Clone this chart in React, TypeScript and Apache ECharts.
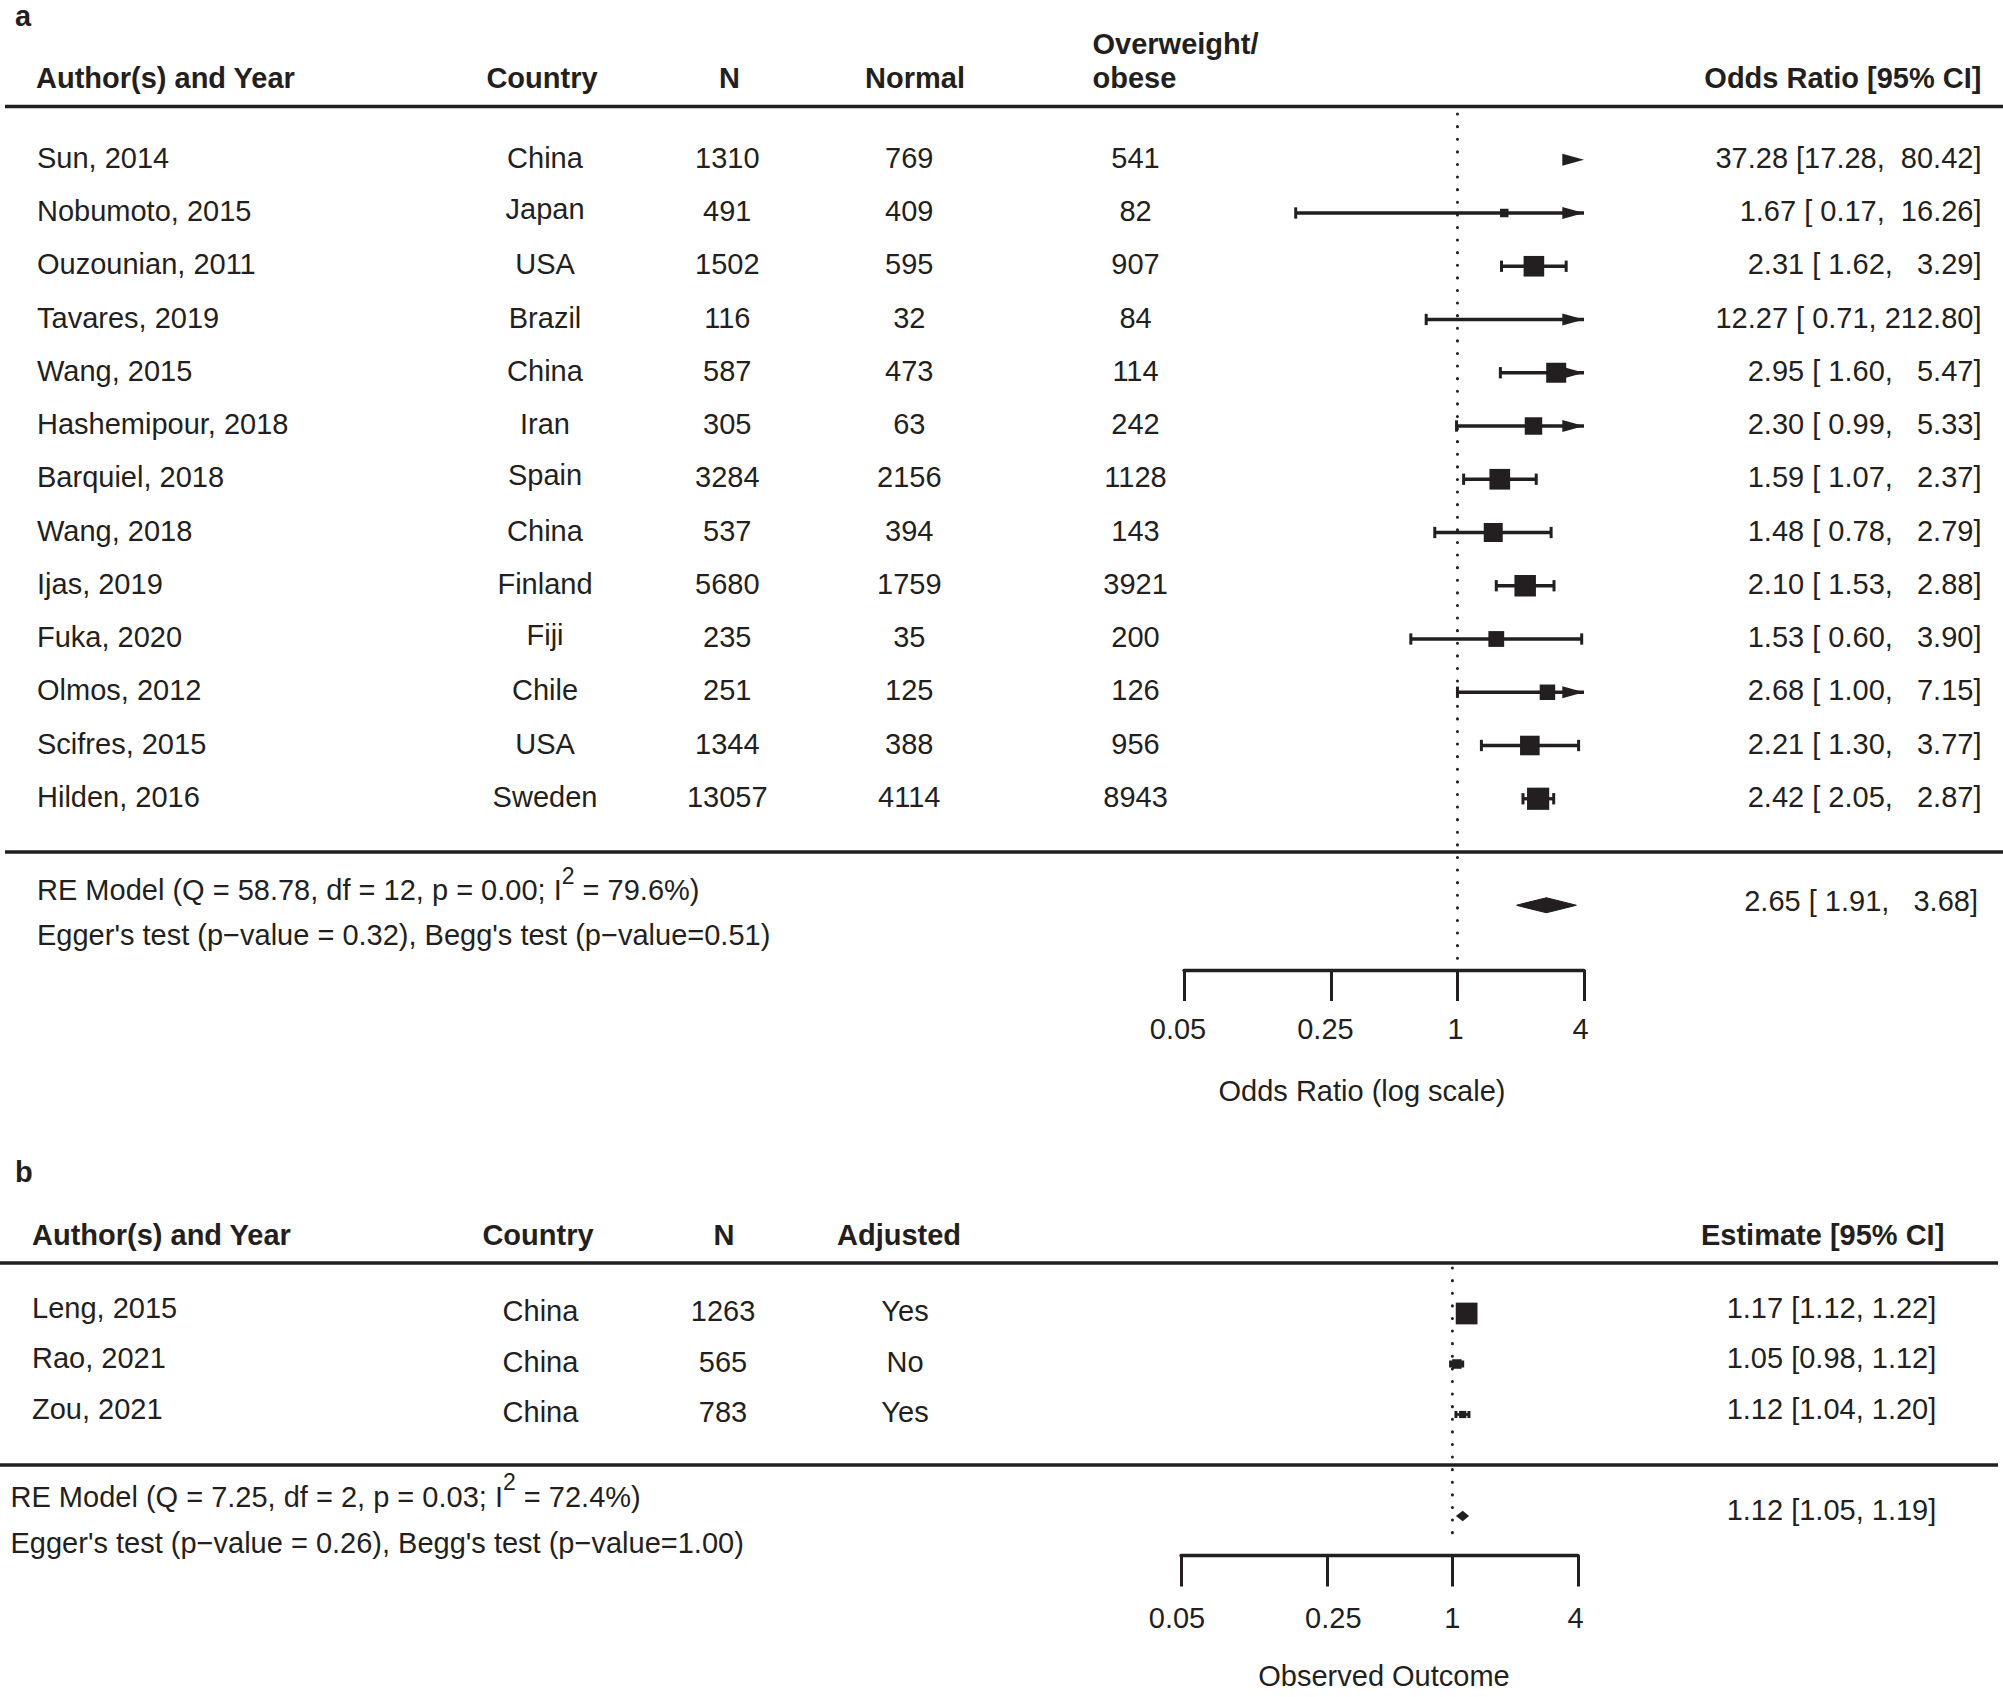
import React, { useEffect, useRef } from "react";
import * as echarts from "echarts";

const FONT = '"Liberation Sans", Arial, Helvetica, sans-serif';
const INK = "#231f20";
const FS = 29;

// ---------------- Panel a data ----------------
const authorsA = ["Sun, 2014", "Nobumoto, 2015", "Ouzounian, 2011", "Tavares, 2019", "Wang, 2015", "Hashemipour, 2018", "Barquiel, 2018", "Wang, 2018", "Ijas, 2019", "Fuka, 2020", "Olmos, 2012", "Scifres, 2015", "Hilden, 2016"];
const countriesA = ["China", "Japan", "USA", "Brazil", "China", "Iran", "Spain", "China", "Finland", "Fiji", "Chile", "USA", "Sweden"];
const totalA = [1310, 491, 1502, 116, 587, 305, 3284, 537, 5680, 235, 251, 1344, 13057];
const normalA = [769, 409, 595, 32, 473, 63, 2156, 394, 1759, 35, 125, 388, 4114];
const overweightA = [541, 82, 907, 84, 114, 242, 1128, 143, 3921, 200, 126, 956, 8943];
const orA = [37.28, 1.67, 2.31, 12.27, 2.95, 2.3, 1.59, 1.48, 2.1, 1.53, 2.68, 2.21, 2.42];
const lowerA = [17.28, 0.17, 1.62, 0.71, 1.6, 0.99, 1.07, 0.78, 1.53, 0.6, 1.0, 1.3, 2.05];
const upperA = [80.42, 16.26, 3.29, 212.8, 5.47, 5.33, 2.37, 2.79, 2.88, 3.9, 7.15, 3.77, 2.87];
const weightA = [7.52, 2.02, 9.79, 1.32, 9.4, 7.79, 9.85, 8.76, 10.37, 6.71, 6.51, 9.14, 10.81];
const pooledA = [2.65, 1.91, 3.68];
const headersA = ["Author(s) and Year", "Country", "N", "Normal", "Overweight/", "obese", "Odds Ratio [95% CI]"];
const modelTextA = ["RE Model (Q = 58.78, df = 12, p = 0.00; I", "2", " = 79.6%)"];
const biasTextA = "Egger's test (p\u2212value = 0.32), Begg's test (p\u2212value=0.51)";
const axisTitleA = "Odds Ratio (log scale)";

// ---------------- Panel b data ----------------
const authorsB = ["Leng, 2015", "Rao, 2021", "Zou, 2021"];
const countriesB = ["China", "China", "China"];
const totalB = [1263, 565, 783];
const adjustedB = ["Yes", "No", "Yes"];
const estB = [1.17, 1.05, 1.12];
const lowerB = [1.12, 0.98, 1.04];
const upperB = [1.22, 1.12, 1.2];
const weightB = [38.8, 31.3, 29.9];
const pooledB = [1.12, 1.05, 1.19];
const headersB = ["Author(s) and Year", "Country", "N", "Adjusted", "Estimate [95% CI]"];
const modelTextB = ["RE Model (Q = 7.25, df = 2, p = 0.03; I", "2", " = 72.4%)"];
const biasTextB = "Egger's test (p\u2212value = 0.26), Begg's test (p\u2212value=1.00)";
const axisTitleB = "Observed Outcome";

const xTicks = [0.05, 0.25, 1, 4];

// ---------------- helpers ----------------
const LN = Math.log;
const lnMin = LN(xTicks[0]);
const lnMax = LN(xTicks[xTicks.length - 1]);
const tickLabel = (v: number) => {
  const t = xTicks.find((k) => Math.abs(LN(k) - v) < 1e-6);
  return t === undefined ? "" : String(t);
};
const f2 = (v: number) => v.toFixed(2);
function ciFormatter(lo: number[], hi: number[]) {
  const wl = Math.max(...lo.map((v) => f2(v).length));
  const wh = Math.max(...hi.map((v) => f2(v).length));
  return (e: number, l: number, h: number) => `${f2(e)} [${f2(l).padStart(wl)}, ${f2(h).padStart(wh)}]`;
}
let measureCtx: CanvasRenderingContext2D | null = null;
function textWidth(t: string, size: number) {
  if (!measureCtx) measureCtx = document.createElement("canvas").getContext("2d");
  measureCtx!.font = `${size}px ${FONT}`;
  return measureCtx!.measureText(t).width;
}

type Cell = { t: string; x: number; r: number; a: "left" | "center" | "right"; b?: boolean; s?: number; dy?: number };
type HLine = { x1: number; x2: number; r: number };

// layout (pixels)
const LA = { top: 0, rowH: 53.25, yMin: -3, axisY: 970, tableH: 1140, left: 1184, width: 400, rowDy: -2, labelShift: [-6, -5.5, -2, -3.5] };
const LB = { top: 1162, rowH: 50.5, yMin: -3, axisY: 1555.5, tableH: 535, left: 1181, width: 397, rowDy: -2.5, labelShift: [-4, 6.5, 0, -2.5] };
const rowOf = (L: typeof LA, px: number) => (px - L.top) / L.rowH + L.yMin;

function summaryCells(L: typeof LA, parts: string[], x: number, py: number): Cell[] {
  const r = rowOf(L, py);
  const w1 = textWidth(parts[0], FS);
  const w2 = textWidth(parts[1], 23);
  return [
    { t: parts[0], x, r, a: "left" },
    { t: parts[1], x: x + w1, r, a: "left", s: 23, dy: -14.5 },
    { t: parts[2], x: x + w1 + w2, r, a: "left" },
  ];
}

function buildCellsA(): Cell[] {
  const fmt = ciFormatter(lowerA, upperA);
  const cells: Cell[] = [];
  const d = LA.rowDy;
  cells.push({ t: "a", x: 15, r: rowOf(LA, 16), a: "left", b: true });
  const hr = rowOf(LA, 78.2);
  cells.push({ t: headersA[0], x: 36, r: hr, a: "left", b: true });
  cells.push({ t: headersA[1], x: 542, r: hr, a: "center", b: true });
  cells.push({ t: headersA[2], x: 729.5, r: hr, a: "center", b: true });
  cells.push({ t: headersA[3], x: 915, r: hr, a: "center", b: true });
  cells.push({ t: headersA[4], x: 1092.5, r: rowOf(LA, 43.5), a: "left", b: true });
  cells.push({ t: headersA[5], x: 1092.5, r: hr, a: "left", b: true });
  cells.push({ t: headersA[6], x: 1981.5, r: hr, a: "right", b: true });
  authorsA.forEach((name, i) => {
    cells.push({ t: name, x: 37, r: i, a: "left", dy: d });
    cells.push({ t: countriesA[i], x: 545, r: i, a: "center", dy: d + (/[gjpqy]/.test(countriesA[i]) ? -2.5 : 0) });
    cells.push({ t: String(totalA[i]), x: 727.3, r: i, a: "center", dy: d });
    cells.push({ t: String(normalA[i]), x: 909.3, r: i, a: "center", dy: d });
    cells.push({ t: String(overweightA[i]), x: 1135.5, r: i, a: "center", dy: d });
    cells.push({ t: fmt(orA[i], lowerA[i], upperA[i]), x: 1981.5, r: i, a: "right", dy: d });
  });
  cells.push(...summaryCells(LA, modelTextA, 37, 890));
  cells.push({ t: biasTextA, x: 37, r: rowOf(LA, 935), a: "left" });
  cells.push({ t: fmt(pooledA[0], pooledA[1], pooledA[2]), x: 1978, r: rowOf(LA, 900.5), a: "right" });
  return cells;
}

function buildCellsB(): Cell[] {
  const fmt = ciFormatter(lowerB, upperB);
  const cells: Cell[] = [];
  const d = LB.rowDy;
  cells.push({ t: "b", x: 15, r: rowOf(LB, 1172), a: "left", b: true });
  const hr = rowOf(LB, 1235.2);
  cells.push({ t: headersB[0], x: 32, r: hr, a: "left", b: true });
  cells.push({ t: headersB[1], x: 538, r: hr, a: "center", b: true });
  cells.push({ t: headersB[2], x: 724, r: hr, a: "center", b: true });
  cells.push({ t: headersB[3], x: 899, r: hr, a: "center", b: true });
  cells.push({ t: headersB[4], x: 1944.3, r: hr, a: "right", b: true });
  authorsB.forEach((name, i) => {
    cells.push({ t: name, x: 32, r: i, a: "left", dy: d - 3.3 });
    cells.push({ t: countriesB[i], x: 540.5, r: i, a: "center", dy: d });
    cells.push({ t: String(totalB[i]), x: 723, r: i, a: "center", dy: d });
    cells.push({ t: adjustedB[i], x: 905, r: i, a: "center", dy: d });
    cells.push({ t: fmt(estB[i], lowerB[i], upperB[i]), x: 1936.3, r: i, a: "right", dy: d - 3.3 });
  });
  cells.push(...summaryCells(LB, modelTextB, 10.5, 1496.5));
  cells.push({ t: biasTextB, x: 10.5, r: rowOf(LB, 1543), a: "left" });
  cells.push({ t: fmt(pooledB[0], pooledB[1], pooledB[2]), x: 1936.3, r: rowOf(LB, 1509.7), a: "right" });
  return cells;
}

const textRender = (cells: Cell[]) => (params: any, api: any) => {
  const c = cells[params.dataIndex];
  const p = api.coord([api.value(0), api.value(1)]);
  return {
    type: "text",
    x: p[0],
    y: p[1] + (c.dy || 0),
    silent: true,
    style: {
      text: c.t,
      fill: INK,
      fontSize: c.s || FS,
      fontFamily: FONT,
      fontWeight: c.b ? "bold" : "normal",
      align: c.a,
      textAlign: c.a,
      verticalAlign: "middle",
      textVerticalAlign: "middle",
    },
  };
};

const hlineRender = (lines: HLine[]) => (params: any, api: any) => {
  const l = lines[params.dataIndex];
  const p1 = api.coord([l.x1, l.r]);
  const p2 = api.coord([l.x2, l.r]);
  return { type: "line", silent: true, shape: { x1: p1[0], y1: p1[1], x2: p2[0], y2: p2[1] }, style: { stroke: INK, lineWidth: 3.3 } };
};

type ForestCfg = { lw: number; capH: number; s0: number; arrowLen: number; arrowH: number; wMin: number; wMax: number };
const forestRender = (cfg: ForestCfg) => (params: any, api: any) => {
  const le = api.value(0);
  const row = api.value(1);
  const ll = api.value(2);
  const lh = api.value(3);
  const w = api.value(4);
  const X = (v: number) => api.coord([v, row])[0];
  const y = api.coord([0, row])[1];
  const ch: any[] = [];
  const st = { stroke: INK, lineWidth: cfg.lw };
  const leftArrow = ll < lnMin;
  const rightArrow = lh > lnMax;
  if (ll < lnMax && lh > lnMin) {
    ch.push({ type: "line", shape: { x1: X(Math.max(ll, lnMin)), y1: y, x2: X(Math.min(lh, lnMax)), y2: y }, style: st });
  }
  if (!leftArrow && ll <= lnMax) {
    const x = X(ll);
    ch.push({ type: "line", shape: { x1: x, y1: y - cfg.capH / 2, x2: x, y2: y + cfg.capH / 2 }, style: { stroke: INK, lineWidth: 3 } });
  }
  if (!rightArrow && lh >= lnMin) {
    const x = X(lh);
    ch.push({ type: "line", shape: { x1: x, y1: y - cfg.capH / 2, x2: x, y2: y + cfg.capH / 2 }, style: { stroke: INK, lineWidth: 3 } });
  }
  if (rightArrow) {
    const xr = X(lnMax);
    ch.push({ type: "polygon", shape: { points: [[xr - cfg.arrowLen, y - cfg.arrowH / 2], [xr, y], [xr - cfg.arrowLen, y + cfg.arrowH / 2]] }, style: { fill: INK } });
  }
  if (leftArrow) {
    const xl = X(lnMin);
    ch.push({ type: "polygon", shape: { points: [[xl + cfg.arrowLen, y - cfg.arrowH / 2], [xl, y], [xl + cfg.arrowLen, y + cfg.arrowH / 2]] }, style: { fill: INK } });
  }
  if (le >= lnMin && le <= lnMax) {
    const s = cfg.s0 * (0.5 + (w - cfg.wMin) / (cfg.wMax - cfg.wMin));
    const x = X(le);
    ch.push({ type: "rect", shape: { x: x - s / 2, y: y - s / 2, width: s, height: s }, style: { fill: INK } });
  }
  return { type: "group", silent: true, children: ch };
};

const diamondRender = (h: number) => (params: any, api: any) => {
  const le = api.value(0);
  const row = api.value(1);
  const ll = api.value(2);
  const lh = api.value(3);
  const X = (v: number) => api.coord([v, row])[0];
  const y = api.coord([0, row])[1];
  return {
    type: "polygon",
    silent: true,
    shape: { points: [[X(ll), y], [X(le), y - h / 2], [X(lh), y], [X(le), y + h / 2]] },
    style: { fill: INK, stroke: INK, lineWidth: 1.2 },
  };
};

function forestXAxis(gridIndex: number, name: string, margin: number, nameGap: number, namePad: number[], shifts: number[]) {
  const rich: Record<string, any> = {};
  shifts.forEach((s, i) => {
    rich["t" + i] = { color: INK, fontSize: FS, fontFamily: FONT, padding: [0, s < 0 ? -2 * s : 0, 0, s > 0 ? 2 * s : 0] };
  });
  return {
    gridIndex,
    type: "value",
    min: lnMin,
    max: lnMax,
    position: "bottom",
    axisLine: { show: true, onZero: false, lineStyle: { color: INK, width: 3.3 } },
    axisTick: { show: true, inside: false, length: 31, lineStyle: { color: INK, width: 3 }, customValues: xTicks.map(LN) },
    axisLabel: {
      show: true,
      customValues: xTicks.map(LN),
      formatter: (v: number) => {
        const idx = xTicks.findIndex((k) => Math.abs(LN(k) - v) < 1e-6);
        return idx < 0 ? "" : `{t${idx}|${tickLabel(v)}}`;
      },
      rich,
      margin,
      color: INK,
      fontSize: FS,
      fontFamily: FONT,
    },
    splitLine: { show: false },
    name,
    nameLocation: "middle",
    nameGap,
    nameTextStyle: { color: INK, fontSize: FS, fontFamily: FONT, padding: namePad },
  };
}

function buildOption() {
  const cellsA = buildCellsA();
  const cellsB = buildCellsB();
  const linesA: HLine[] = [{ x1: 5, x2: 2003, r: -1 }, { x1: 5, x2: 2003, r: authorsA.length }];
  const linesB: HLine[] = [{ x1: 0, x2: 1998, r: -1 }, { x1: 0, x2: 1998, r: authorsB.length }];
  const yMaxA = LA.yMin + (LA.axisY - LA.top) / LA.rowH;
  const yMaxB = LB.yMin + (LB.axisY - LB.top) / LB.rowH;
  const tMaxA = LA.yMin + LA.tableH / LA.rowH;
  const tMaxB = LB.yMin + LB.tableH / LB.rowH;
  const gridBase = { containLabel: false, outerBoundsMode: "none", show: false };

  const cfgA: ForestCfg = { lw: 3.3, capH: 11.3, s0: 14.8, arrowLen: 21.7, arrowH: 12, wMin: Math.min(...weightA), wMax: Math.max(...weightA) };
  const cfgB: ForestCfg = { lw: 2.6, capH: 7, s0: 14.5, arrowLen: 21.7, arrowH: 12, wMin: Math.min(...weightB), wMax: Math.max(...weightB) };

  const dataA = orA.map((e, i) => [LN(e), i, LN(lowerA[i]), LN(upperA[i]), weightA[i]]);
  const dataB = estB.map((e, i) => [LN(e), i, LN(lowerB[i]), LN(upperB[i]), weightB[i]]);

  const dotted = { color: INK, width: 3, type: [0.1, 12.5], cap: "round" };

  return {
    animation: false,
    backgroundColor: "#ffffff",
    grid: [
      { ...gridBase, left: 0, top: LA.top, width: 2003, height: LA.tableH },
      { ...gridBase, left: LA.left, top: LA.top, width: LA.width, height: LA.axisY - LA.top },
      { ...gridBase, left: 0, top: LB.top, width: 2003, height: LB.tableH },
      { ...gridBase, left: LB.left, top: LB.top, width: LB.width, height: LB.axisY - LB.top },
    ],
    xAxis: [
      { gridIndex: 0, type: "value", min: 0, max: 2003, show: false },
      forestXAxis(1, axisTitleA, 44, 106, [0, 44, 0, 0], LA.labelShift),
      { gridIndex: 2, type: "value", min: 0, max: 2003, show: false },
      forestXAxis(3, axisTitleB, 48, 106, [0, 0, 0, 9], LB.labelShift),
    ],
    yAxis: [
      { gridIndex: 0, type: "value", min: LA.yMin, max: tMaxA, inverse: true, show: false },
      { gridIndex: 1, type: "value", min: LA.yMin, max: yMaxA, inverse: true, show: false },
      { gridIndex: 2, type: "value", min: LB.yMin, max: tMaxB, inverse: true, show: false },
      { gridIndex: 3, type: "value", min: LB.yMin, max: yMaxB, inverse: true, show: false },
    ],
    series: [
      // reference lines (OR = 1)
      { type: "line", xAxisIndex: 1, yAxisIndex: 1, data: [[0, rowOf(LA, 114)], [0, rowOf(LA, 960)]], symbol: "none", lineStyle: dotted, silent: true, z: 1 },
      { type: "line", xAxisIndex: 3, yAxisIndex: 3, data: [[0, rowOf(LB, 1268)], [0, rowOf(LB, 1545)]], symbol: "none", lineStyle: dotted, silent: true, z: 1 },
      // table rules
      { type: "custom", coordinateSystem: "cartesian2d", xAxisIndex: 0, yAxisIndex: 0, data: linesA.map((l) => [l.x1, l.r]), renderItem: hlineRender(linesA), silent: true, clip: false, z: 2 },
      { type: "custom", coordinateSystem: "cartesian2d", xAxisIndex: 2, yAxisIndex: 2, data: linesB.map((l) => [l.x1, l.r]), renderItem: hlineRender(linesB), silent: true, clip: false, z: 2 },
      // table texts
      { type: "custom", coordinateSystem: "cartesian2d", xAxisIndex: 0, yAxisIndex: 0, data: cellsA.map((c) => [c.x, c.r]), renderItem: textRender(cellsA), silent: true, clip: false, z: 3 },
      { type: "custom", coordinateSystem: "cartesian2d", xAxisIndex: 2, yAxisIndex: 2, data: cellsB.map((c) => [c.x, c.r]), renderItem: textRender(cellsB), silent: true, clip: false, z: 3 },
      // study estimates
      { type: "custom", coordinateSystem: "cartesian2d", xAxisIndex: 1, yAxisIndex: 1, data: dataA, renderItem: forestRender(cfgA), silent: true, clip: false, z: 4 },
      { type: "custom", coordinateSystem: "cartesian2d", xAxisIndex: 3, yAxisIndex: 3, data: dataB, renderItem: forestRender(cfgB), silent: true, clip: false, z: 4 },
      // pooled estimates
      { type: "custom", coordinateSystem: "cartesian2d", xAxisIndex: 1, yAxisIndex: 1, data: [[LN(pooledA[0]), authorsA.length + 1, LN(pooledA[1]), LN(pooledA[2])]], renderItem: diamondRender(15), silent: true, clip: false, z: 4 },
      { type: "custom", coordinateSystem: "cartesian2d", xAxisIndex: 3, yAxisIndex: 3, data: [[LN(pooledB[0]), rowOf(LB, 1516), LN(pooledB[1]), LN(pooledB[2])]], renderItem: diamondRender(9), silent: true, clip: false, z: 4 },
    ],
  };
}

export default function App() {
  const ref = useRef<HTMLDivElement>(null);
  useEffect(() => {
    if (!ref.current) return;
    const chart = echarts.init(ref.current, null, { renderer: "svg" });
    chart.setOption(buildOption() as any);
    return () => chart.dispose();
  }, []);
  return <div ref={ref} style={{ position: "absolute", left: 0, top: 0, width: 2003, height: 1697, background: "#fff" }} />;
}
